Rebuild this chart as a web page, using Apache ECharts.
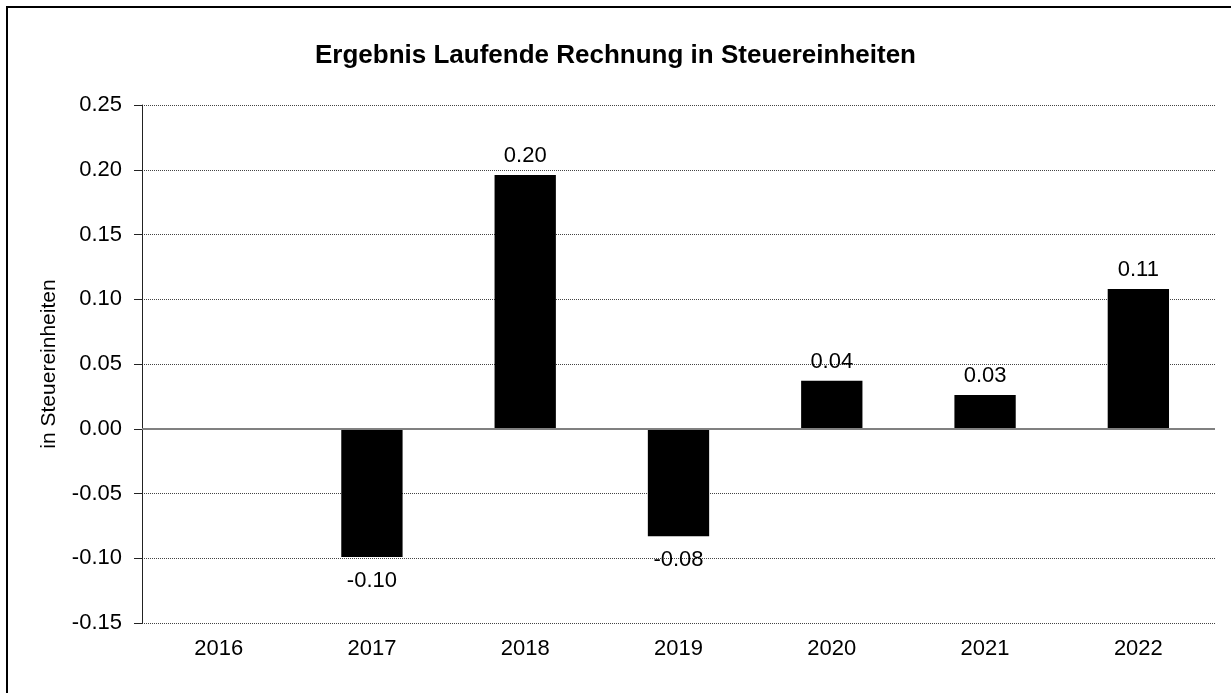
<!DOCTYPE html>
<html>
<head>
<meta charset="utf-8">
<script src="https://cdn.jsdelivr.net/npm/echarts@6/dist/echarts.min.js"></script>
<style>
  html, body { margin: 0; padding: 0; background: #fff; }
  #main { width: 1231px; height: 693px; }
</style>
</head>
<body>
<div id="main"></div>
<script type="text/javascript">
    // Jahre und Werte (in Steuereinheiten)
    var years = ['2016', '2017', '2018', '2019', '2020', '2021', '2022'];
    var values = [null, -0.099, 0.196, -0.083, 0.037, 0.026, 0.108];

    var myChart = echarts.init(document.getElementById('main'));

    var barData = values.map(function (v) {
        if (v === null) return null;
        return {
            value: v,
            label: { position: v < 0 ? 'bottom' : 'top', distance: v < 0 ? 13 : 8 }
        };
    });

    var option = {
        backgroundColor: '#fff',
        textStyle: { fontFamily: 'Liberation Sans, Arial, sans-serif' },
        title: {
            text: 'Ergebnis Laufende Rechnung in Steuereinheiten',
            left: 'center',
            top: 38,
            textStyle: { fontSize: 26, fontWeight: 'bold', color: '#000' }
        },
        // Rahmen nur oben und links sichtbar
        graphic: [{
            type: 'rect',
            shape: { x: 7, y: 7, width: 1400, height: 900 },
            style: { fill: 'none', stroke: '#000', lineWidth: 2 },
            silent: true
        }],
        grid: { left: 142, right: 16, top: 105, bottom: 70 },
        xAxis: {
            type: 'category',
            data: years,
            axisLine: { show: false },
            axisTick: { show: false },
            axisLabel: { color: '#000', fontSize: 22, margin: 15 },
            splitLine: { show: false }
        },
        yAxis: {
            type: 'value',
            min: -0.15,
            max: 0.25,
            interval: 0.05,
            name: 'in Steuereinheiten',
            nameLocation: 'middle',
            nameGap: 82,
            nameTextStyle: { color: '#000', fontSize: 21 },
            axisLine: { show: true, lineStyle: { color: '#222', width: 1 } },
            axisTick: { show: true, length: 8, lineStyle: { color: '#222' } },
            axisLabel: {
                color: '#000', fontSize: 22, margin: 20,
                formatter: function (v) { return v.toFixed(2); }
            },
            splitLine: { show: true, lineStyle: { color: '#444', type: [1, 1], width: 1 } }
        },
        series: [{
            type: 'bar',
            data: barData,
            barWidth: '40%',
            itemStyle: { color: '#000' },
            label: {
                show: true,
                color: '#000',
                fontSize: 22,
                formatter: function (p) { return p.value.toFixed(2); }
            },
            markLine: {
                silent: true,
                symbol: 'none',
                label: { show: false },
                lineStyle: { color: '#808080', type: 'solid', width: 2 },
                data: [{ yAxis: 0 }]
            }
        }]
    };

    myChart.setOption(option);
</script>
</body>
</html>
